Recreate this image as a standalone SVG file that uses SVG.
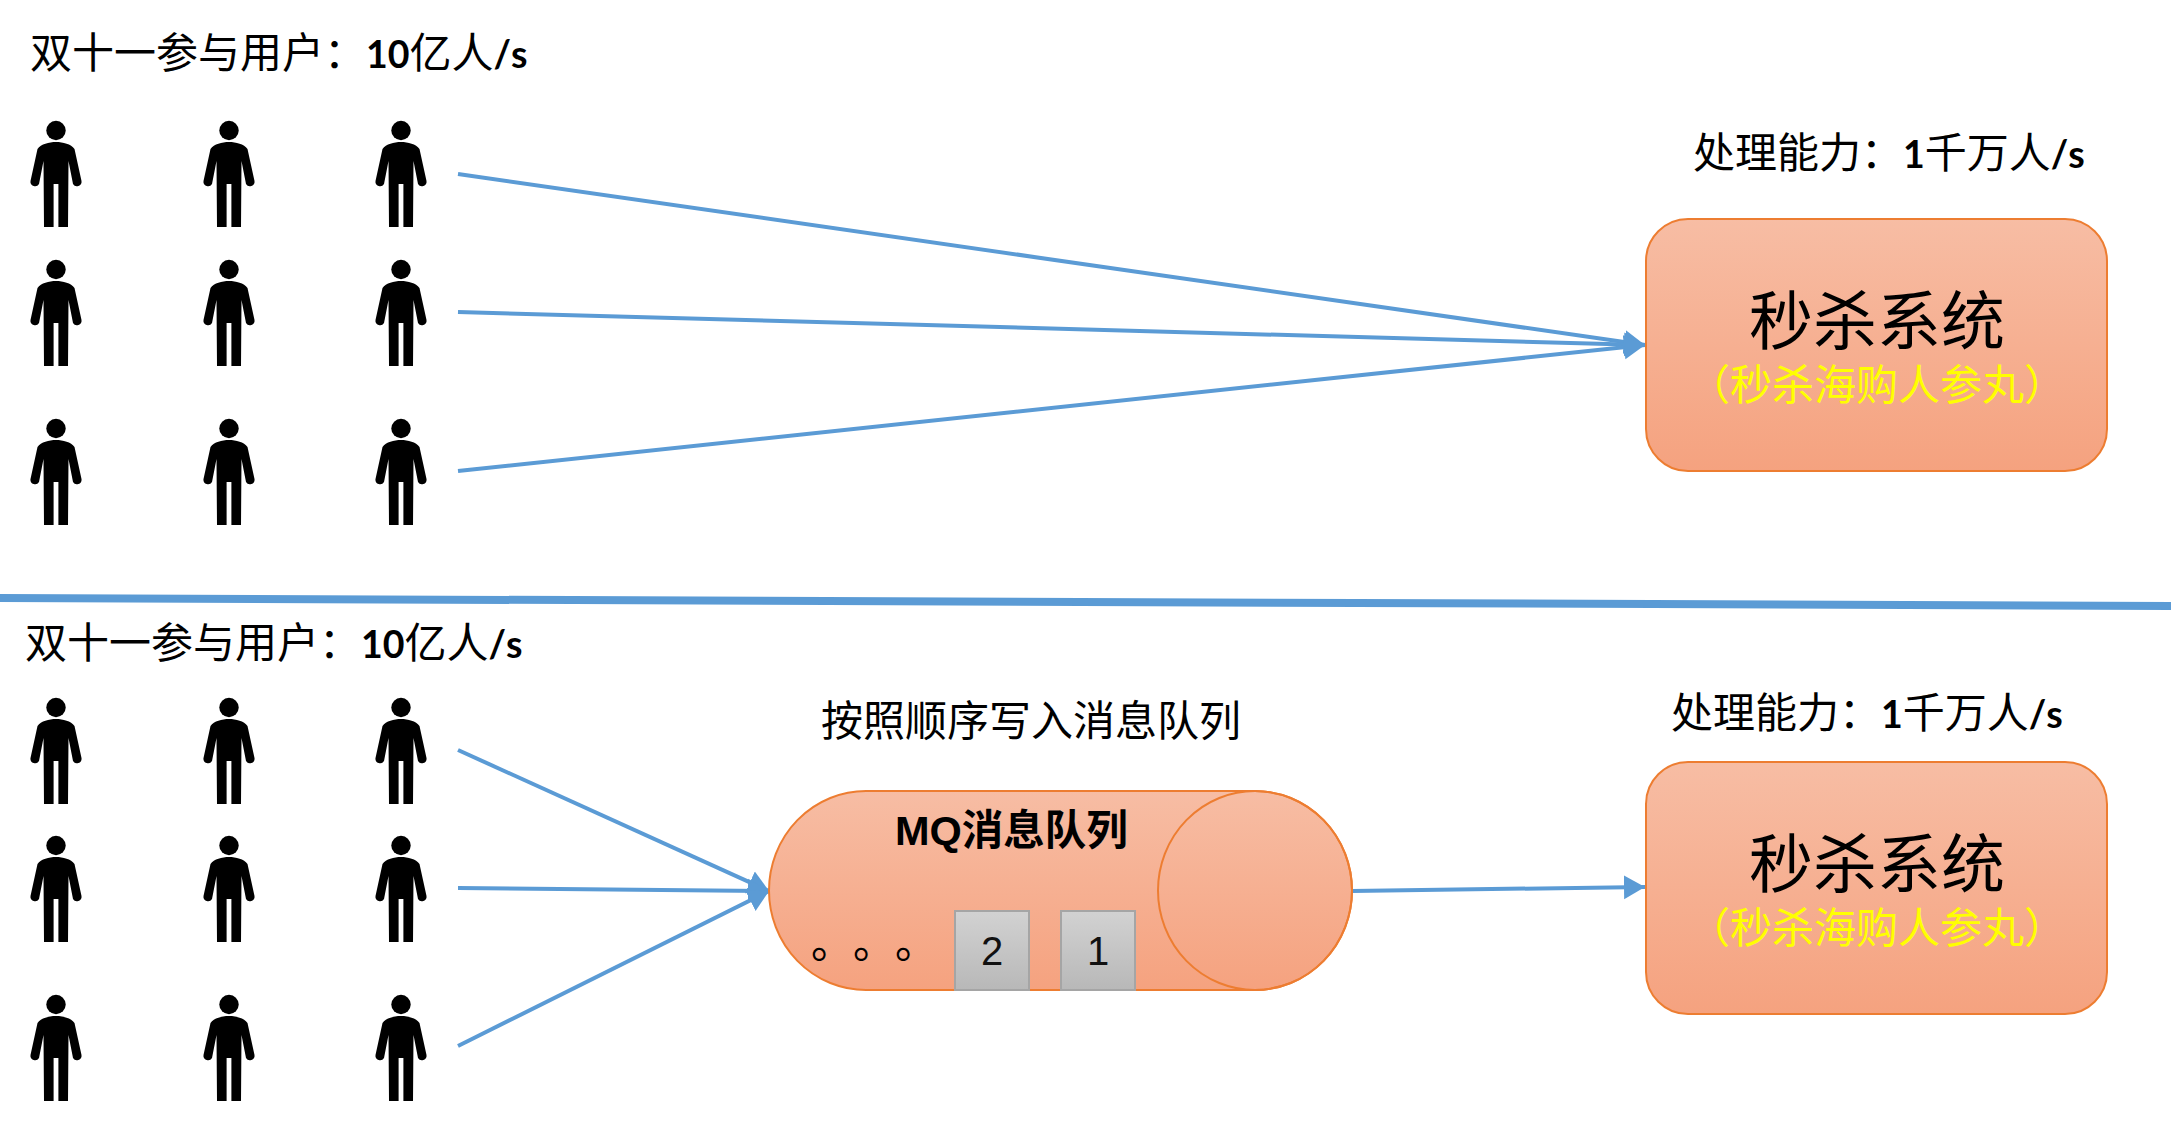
<svg xmlns="http://www.w3.org/2000/svg" width="2171" height="1126" viewBox="0 0 2171 1126">
<style>
.t{font-family:"Noto Sans CJK SC","Liberation Sans",sans-serif;font-size:42px;fill:#000}
.b{font-family:"Lato","Liberation Sans",sans-serif;font-weight:700;font-size:37.5px}
.shape{fill:url(#orange);stroke:#ED7D31;stroke-width:2}
.c{stroke:#5B9BD5;stroke-width:4;fill:none}
.big{font-size:64px;text-anchor:middle}
.sub{font-size:42px;fill:#FFFF00;text-anchor:middle}
.sq{fill:url(#grey);stroke:#A5A5A5;stroke-width:2}
.n{font-family:"Liberation Sans",sans-serif;font-size:40px;text-anchor:middle;fill:#111}
</style>
<defs>
<linearGradient id="orange" x1="0" y1="0" x2="0" y2="1"><stop offset="0" stop-color="#F7BDA4"/><stop offset="1" stop-color="#F5A27F"/></linearGradient>
<linearGradient id="grey" x1="0" y1="0" x2="0" y2="1"><stop offset="0" stop-color="#D2D2D2"/><stop offset="1" stop-color="#B8B8B8"/></linearGradient>
<marker id="arrow" markerUnits="userSpaceOnUse" markerWidth="22" markerHeight="26" refX="21" refY="13" orient="auto"><path d="M0,1 L21,13 L0,25 Z" fill="#5B9BD5"/></marker>
<g id="person"><circle cx="0" cy="9.5" r="9.7"/><path d="M0,21 C7,21 15,23 18.5,28 L25.5,60 A4.6,4.6 0 0 1 17,63 L12.5,40 L12,106 L2.4,106 L2.4,63 L-2.4,63 L-2.4,106 L-12,106 L-12.5,40 L-17,63 A4.6,4.6 0 0 1 -25.5,60 L-18.5,28 C-15,23 -7,21 0,21 Z"/></g>
</defs>
<rect width="2171" height="1126" fill="#fff"/>
<g id="connectors">
<path class="c" marker-end="url(#arrow)" d="M458,174 L1645,345"/>
<path class="c" marker-end="url(#arrow)" d="M458,312 L1645,345"/>
<path class="c" marker-end="url(#arrow)" d="M458,471 L1645,345"/>
<path d="M0,598 L2171,606" stroke="#5B9BD5" stroke-width="8" fill="none"/>
<path class="c" marker-end="url(#arrow)" d="M458,750 L769,891"/>
<path class="c" marker-end="url(#arrow)" d="M458,888 L769,891"/>
<path class="c" marker-end="url(#arrow)" d="M458,1046 L769,891"/>
<path class="c" marker-end="url(#arrow)" d="M1352,891 L1645,887"/>
</g>
<g id="label-top-users"><text class="t" x="30" y="68">双十一参与用户：<tspan class="b">10</tspan>亿人<tspan class="b">/s</tspan></text></g>
<g id="users-top">
<use href="#person" x="56" y="121"/><use href="#person" x="229" y="121"/><use href="#person" x="401" y="121"/>
<use href="#person" x="56" y="260"/><use href="#person" x="229" y="260"/><use href="#person" x="401" y="260"/>
<use href="#person" x="56" y="419"/><use href="#person" x="229" y="419"/><use href="#person" x="401" y="419"/>
</g>
<g id="label-top-cap"><text class="t" x="1693" y="168">处理能力：<tspan class="b">1</tspan>千万人<tspan class="b">/s</tspan></text></g>
<g id="system-top">
<rect class="shape" x="1646" y="219" width="461" height="252" rx="42" ry="42"/>
<text class="t big" x="1877" y="344">秒杀系统</text>
<text class="t sub" x="1877" y="400">（秒杀海购人参丸）</text>
</g>
<g id="label-bottom-users"><text class="t" x="25" y="658">双十一参与用户：<tspan class="b">10</tspan>亿人<tspan class="b">/s</tspan></text></g>
<g id="users-bottom">
<use href="#person" x="56" y="698"/><use href="#person" x="229" y="698"/><use href="#person" x="401" y="698"/>
<use href="#person" x="56" y="836"/><use href="#person" x="229" y="836"/><use href="#person" x="401" y="836"/>
<use href="#person" x="56" y="995"/><use href="#person" x="229" y="995"/><use href="#person" x="401" y="995"/>
</g>
<g id="label-write"><text class="t" x="821" y="736">按照顺序写入消息队列</text></g>
<g id="mq">
<path class="shape" d="M866,791 L1255,791 A97,99.5 0 0 1 1255,990 L866,990 A97,99.5 0 0 1 866,791 Z"/>
<ellipse cx="1255" cy="890.5" rx="97" ry="99.5" fill="none" stroke="#ED7D31" stroke-width="2"/>
<text x="895" y="845" style="font-family:'Liberation Sans','Noto Sans CJK SC',sans-serif;font-weight:700;font-size:41.5px">MQ<tspan style="font-family:'Noto Sans CJK SC',sans-serif">消息队列</tspan></text>
<text class="t" x="811 853 895" y="958">。。。</text>
<rect class="sq" x="955" y="911" width="74" height="79"/><text class="n" x="992" y="965">2</text>
<rect class="sq" x="1061" y="911" width="74" height="79"/><text class="n" x="1098" y="965">1</text>
</g>
<g id="label-bottom-cap"><text class="t" x="1671" y="728">处理能力：<tspan class="b">1</tspan>千万人<tspan class="b">/s</tspan></text></g>
<g id="system-bottom">
<rect class="shape" x="1646" y="762" width="461" height="252" rx="42" ry="42"/>
<text class="t big" x="1877" y="887">秒杀系统</text>
<text class="t sub" x="1877" y="943">（秒杀海购人参丸）</text>
</g>
</svg>
